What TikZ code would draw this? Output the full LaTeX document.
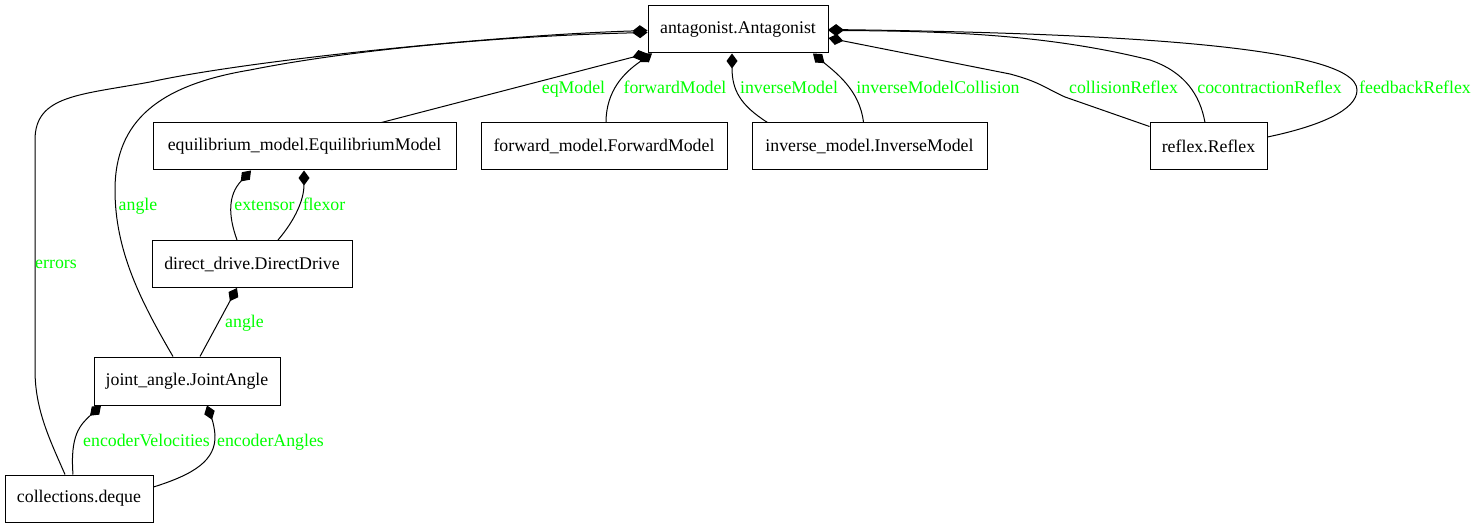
\documentclass[tikz,border=0pt]{standalone}
\usepackage{fontspec}
\setmainfont{Liberation Serif}
\usetikzlibrary{arrows.meta}
\definecolor{lblgreen}{RGB}{0,255,0}
\begin{document}
\begin{tikzpicture}[x=1pt,y=-1pt,
  cls/.style={draw=black, line width=1pt, fill=white, inner sep=0pt, minimum height=47pt, font=\fontsize{17.8}{20}\selectfont},
  lbl/.style={text=lblgreen, inner sep=0pt, anchor=base, font=\fontsize{17.8}{20}\selectfont},
  comp/.style={draw=black, line width=1pt, -{Diamond[length=15pt,width=11pt]}},
]
\useasboundingbox (0,0) rectangle (1475,529);

% classes
\node[cls, minimum width=180pt] (ant) at (738,29.5) {antagonist.Antagonist};
\node[cls, minimum width=303pt] (eq) at (304.5,146.5) {equilibrium\_model.EquilibriumModel};
\node[cls, minimum width=246pt] (fwd) at (604,146.5) {forward\_model.ForwardModel};
\node[cls, minimum width=235pt] (inv) at (869.5,146.5) {inverse\_model.InverseModel};
\node[cls, minimum width=117pt] (refl) at (1208.5,146.5) {reflex.Reflex};
\node[cls, minimum width=200pt] (dd) at (252,264) {direct\_drive.DirectDrive};
\node[cls, minimum width=186pt, minimum height=48pt] (ja) at (187,381) {joint\_angle.JointAngle};
\node[cls, minimum width=148pt] (dq) at (79,498.5) {collections.deque};

% composition edges
\draw[comp] ([xshift=-14pt]dq.north) .. controls (50,440) and (35,410) .. (35,370)
  -- (35,140) .. controls (35,95) and (80,95) .. (150,82)
  .. controls (250,60) and (500,35) .. ([yshift=-1pt]ant.west);
\draw[comp] ([xshift=-14pt]ja.north) .. controls (140,300) and (115,250) .. (115,190)
  .. controls (115,120) and (160,85) .. (250,70)
  .. controls (350,50) and (500,36) .. ([yshift=-3pt]ant.west);
\draw[comp] ([xshift=77pt]eq.north) -- ([xshift=-91pt]ant.south);
\draw[comp] ([xshift=2pt]fwd.north) .. controls (606,90) and (625,72) .. ([xshift=-86pt]ant.south);
\draw[comp] ([xshift=-102pt]inv.north) .. controls (740,105) and (732,90) .. ([xshift=-6pt]ant.south);
\draw[comp] ([xshift=-6pt]inv.north) .. controls (860,90) and (835,72) .. ([xshift=75pt]ant.south);
\draw[comp] ([yshift=-4pt]refl.north west) -- (1065,97) .. controls (1045,88) and (1040,82) .. (1010,74)
  -- ([yshift=-8.5pt]ant.east);
\draw[comp] ([xshift=-3.5pt]refl.north) .. controls (1200,95) and (1185,72) .. (1150,60)
  .. controls (1050,35) and (950,31) .. ([yshift=-1pt]ant.east);
\draw[comp] ([yshift=9.5pt]refl.east) .. controls (1320,126) and (1357,110) .. (1357,90)
  .. controls (1357,45) and (1100,33) .. ([yshift=0pt]ant.east);
\draw[comp] ([xshift=-15pt]dd.north) .. controls (228,215) and (228,195) .. ([xshift=-53.5pt]eq.south);
\draw[comp] ([xshift=26pt]dd.north) .. controls (295,220) and (304,200) .. ([xshift=-0.5pt]eq.south);
\draw[comp] ([xshift=13pt]ja.north) -- ([xshift=-15pt]dd.south);
\draw[comp] ([xshift=-6pt]dq.north) .. controls (70,435) and (80,425) .. ([xshift=-86pt]ja.south);
\draw[comp] ([yshift=11.5pt]dq.east) .. controls (195,474) and (216,460) .. (215,435)
  .. controls (214,422) and (210,414) .. ([xshift=20pt]ja.south);

% labels
\node[lbl] (lerr) at (56,269) {errors};
\node[lbl] (lang1) at (138,211) {angle};
\node[lbl] (lext) at (264.5,211) {extensor};
\node[lbl] (lflex) at (324,211) {flexor};
\node[lbl] (lang2) at (244.5,327) {angle};
\node[lbl] (lvel) at (146.5,446) {encoderVelocities};
\node[lbl] (lenc) at (270.5,446) {encoderAngles};
\node[lbl] (leq) at (573.5,94) {eqModel};
\node[lbl] (lfwd) at (675,94) {forwardModel};
\node[lbl] (linv) at (789,94) {inverseModel};
\node[lbl] (linvc) at (938,94) {inverseModelCollision};
\node[lbl] (lcoll) at (1123.5,94) {collisionReflex};
\node[lbl] (lcoc) at (1269.5,94) {cocontractionReflex};
\node[lbl] (lfb) at (1415,94) {feedbackReflex};
\end{tikzpicture}
\end{document}
